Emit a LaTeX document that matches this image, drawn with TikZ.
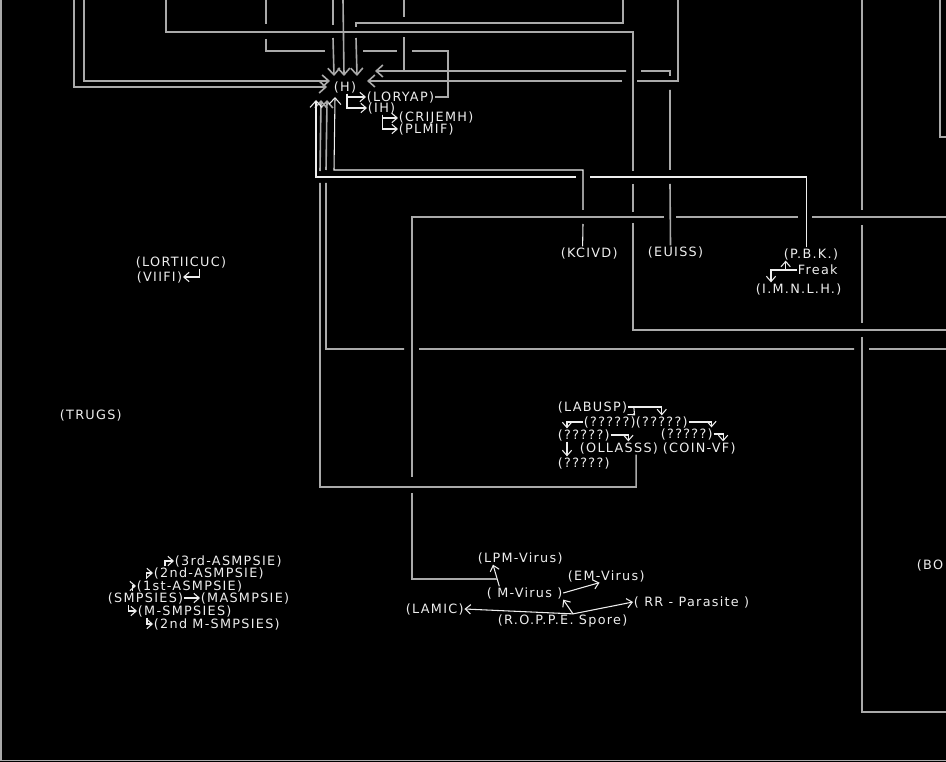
\documentclass[tikz,border=0pt]{standalone}
\usepackage{fontspec}
\usepackage{tikz}
\usetikzlibrary{arrows.meta}
\newfontfamily\lblfont[LetterSpace=10]{DejaVu Sans}
\definecolor{linegray}{RGB}{170,170,170}
\definecolor{labelwhite}{RGB}{238,238,238}
\tikzset{>={Straight Barb[length=4pt,width=7pt]}}

\begin{document}
\begin{tikzpicture}[x=0.75pt, y=-0.75pt,
        lbl/.style={anchor=west, inner sep=0.5pt, text=labelwhite, font={\lblfont\fontsize{9.6}{10}\selectfont}},
        gline/.style={draw=linegray, line width=1.2pt},
        wline/.style={draw=labelwhite, line width=0.8pt},
        harrow/.style={-{Straight Barb[length=5pt,width=9pt]}}]
        \useasboundingbox (0,0) rectangle (946,762);
        \fill[black] (0,0) rectangle (946,762);
        \draw[gline] (0.8,0) -- (0.8,760.5) -- (946,760.5);

        \node[lbl] (H) at (333,87) {(H)};
        \node[lbl] (LORYAP) at (366,97) {(LORYAP)};
        \node[lbl] (IH) at (367,108) {(IH)};
        \node[lbl] (CRIJEMH) at (398,118) {(CRIJEMH)};
        \node[lbl] (PLMIF) at (398,129) {(PLMIF)};
        \node[lbl] (KCIVD) at (560,253) {(KCIVD)};
        \node[lbl] (EUISS) at (647,252) {(EUISS)};
        \node[lbl] (PBK) at (783,254) {(P.B.K.)};
        \node[lbl] (Freak) at (797,270) {Freak};
        \node[lbl] (IMNLH) at (755,289) {(I.M.N.L.H.)};
        \node[lbl] (LORTIICUC) at (135,262) {(LORTIICUC)};
        \node[lbl] (VIIFI) at (136,277) {(VIIFI)};
        \node[lbl] (TRUGS) at (59,415) {(TRUGS)};
        \node[lbl] (LABUSP) at (557,407) {(LABUSP)};
        \node[lbl] (qa) at (583,422) {(?????)};
        \node[lbl] (qb) at (635,422) {(?????)};
        \node[lbl] (qc) at (557,435) {(?????)};
        \node[lbl] (qd) at (660,434) {(?????)};
        \node[lbl] (OLLASSS) at (579,448) {(OLLASSS)};
        \node[lbl] (COINVF) at (662,448) {(COIN-VF)};
        \node[lbl] (qe) at (557,463) {(?????)};
        \node[lbl] (LPM) at (477,558) {(LPM-Virus)};
        \node[lbl] (EM) at (567,576) {(EM-Virus)};
        \node[lbl] (MV) at (486,593) {( M-Virus )};
        \node[lbl] (LAMIC) at (405,609) {(LAMIC)};
        \node[lbl] (RR) at (633,602) {( RR - Parasite )};
        \node[lbl] (Spore) at (497,621) {(R.O.P.P.E. Spore)};
        \node[lbl] (third) at (174,561) {(3rd-ASMPSIE)};
        \node[lbl] (second) at (153,573) {(2nd-ASMPSIE)};
        \node[lbl] (first) at (136,586) {(1st-ASMPSIE)};
        \node[lbl] (SMPSIES) at (107,598) {(SMPSIES)};
        \node[lbl] (MASMPSIE) at (200,598) {(MASMPSIE)};
        \node[lbl] (MSMPSIES) at (137,611) {(M-SMPSIES)};
        \node[lbl] (secondM) at (153,624) {(2nd M-SMPSIES)};
        \node[lbl] (BO) at (916,565) {(BO};

        \coordinate (lt1) at (74,0);
        \coordinate (lt2) at (84,0);
        \coordinate (lt3) at (166,0);
        \coordinate (lt4) at (266,0);
        \coordinate (lt5) at (333,0);
        \coordinate (lt6) at (343,0);
        \coordinate (lt7) at (623,0);
        \coordinate (lt8) at (404,0);
        \coordinate (lt10) at (678,0);
        \coordinate (lt11) at (862,0);
        \coordinate (lt12) at (940,0);
        \coordinate (rt3) at (946,330);
        \coordinate (rt11) at (946,712);
        \coordinate (rt12) at (946,137);
        \coordinate (rt13) at (946,217);
        \coordinate (rt14) at (946,349);

        \draw[wline,->] ([xshift=1.5pt]H.south) |- (LORYAP.west);
        \draw[wline,->] ([xshift=1.5pt]H.south) |- (IH.west);
        \draw[wline,->] ([xshift=1pt]IH.south) |- (CRIJEMH.west);
        \draw[wline,->] ([xshift=1pt]IH.south) |- (PLMIF.west);
        \draw[wline,->] ([xshift=14pt]LORTIICUC.south) |- (VIIFI.east);

        \draw[wline,->] (SMPSIES.east) -- (MASMPSIE.west);
        \draw[wline,->] ([xshift=19pt]SMPSIES.north west) |- (first.west);
        \draw[wline,->] ([xshift=8pt]first.north west) |- (second.west);
        \draw[wline,->] ([xshift=9pt]second.north west) |- (third.west);
        \draw[wline,->] ([xshift=16pt]SMPSIES.south west) |- (MSMPSIES.west);
        \draw[wline,->] ([xshift=7.5pt]MSMPSIES.south west) |- (secondM.west);

        \draw[wline,->] ([xshift=4pt]LABUSP.south east) -- ([xshift=-1pt]qa.north east);
        \draw[wline,->] (LABUSP.east) -| (qb.north);
        \draw[wline,->] (qa.west) -| ([xshift=7.5pt]qc.north west);
        \draw[wline,->] (qc.east) -| ([xshift=37pt]OLLASSS.north west);
        \draw[wline,->] (qb.east) -| ([xshift=-1.5pt]qd.north east);
        \draw[wline,->] (qd.east) -| ([xshift=-10pt]COINVF.north east);
        \draw[wline,->] ([xshift=7.5pt]qc.south west) -- ([xshift=7.5pt]qe.north west);

        \coordinate (sp) at ([xshift=57pt]Spore.north west);
        \draw[wline,->] ([xshift=10pt]MV.north west) -- coordinate[pos=0.34] (mvj) ([xshift=12pt]LPM.south west);
        \draw[wline,->] (MV.east) -- ([xshift=-5pt]EM.south);
        \draw[wline,->] (sp) -- (LAMIC.east);
        \draw[wline,->] (sp) -- (RR.west);
        \draw[wline,->] (sp) -- (MV.south east);

        \coordinate (pbkfoot) at ([xshift=2pt]PBK.south west);
        \draw[wline,->] (Freak.west) -| ([xshift=12pt]IMNLH.north west);
        \draw[wline,->] (pbkfoot |- Freak.west) -- (pbkfoot);

        \draw[gline,harrow] (lt1) |- ([shift={(-18,0)}]H.center);
        \draw[gline,harrow] (lt2) |- ([shift={(-15,-6)}]H.center);
        \draw[gline] (lt3) |- (633,32) -- (633,171) (633,184) -- (633,212) (633,223) |- (rt3);
        \draw[gline] (lt4) -- (266,24) (266,39) |- (325,51) (363,51) -- (397,51) (412,51) -| (448,97) -- (LORYAP.east);
        \draw[gline,harrow] (lt5) -- (333,25) (333,38) -- ([shift={(-11,-11)}]H.center);
        \draw[gline,harrow] (lt6) -- ([shift={(-1,-11)}]H.center);
        \draw[gline,harrow] (lt7) |- (356,23) -- (356,27) (356,38) -- ([shift={(12,-11)}]H.center);
        \draw[gline] (lt8) -- (404,17) (404,37) -- (404,71);
        \draw[gline,harrow] ([xshift=-3.75pt]EUISS.north) -- (670,184) (670,170) -- (670,90) (670,76) |- (641,71) (626,71) -- ([shift={(30,-16)}]H.center);
        \draw[gline,harrow] (lt10) |- (637,81) (622,81) -- ([shift={(22,-6)}]H.center);
        \draw[gline] (lt11) -- (862,210) (862,225) -- (862,323) (862,337) |- (rt11);
        \draw[gline] (lt12) |- (rt12);
        \draw[gline] (rt13) -- (812,217) (798,217) -- (676,217) (664,217) -| (412,477) (412,493) |- (mvj);
        \draw[gline,harrow] (rt14) -- (869,349) (854,349) -- (419,349) (404,349) -| (326,183) (326,170) -- ([shift={(-18,13)}]H.center);
        \draw[gline,harrow] ([xshift=-17pt]OLLASSS.south east) |- (320,487) -- (320,183) (320,171) -- ([shift={(-24,13)}]H.center);

        \draw[wline,harrow] ([xshift=-5pt]KCIVD.north) -- (583,224) (583,210) |- (334,170) -- ([shift={(-10,10)}]H.center);
        \draw[wline,harrow] ([xshift=-3.5pt]PBK.north) |- (590,177) (576,177) -| ([shift={(-29,13)}]H.center);
    \end{tikzpicture}
\end{document}
